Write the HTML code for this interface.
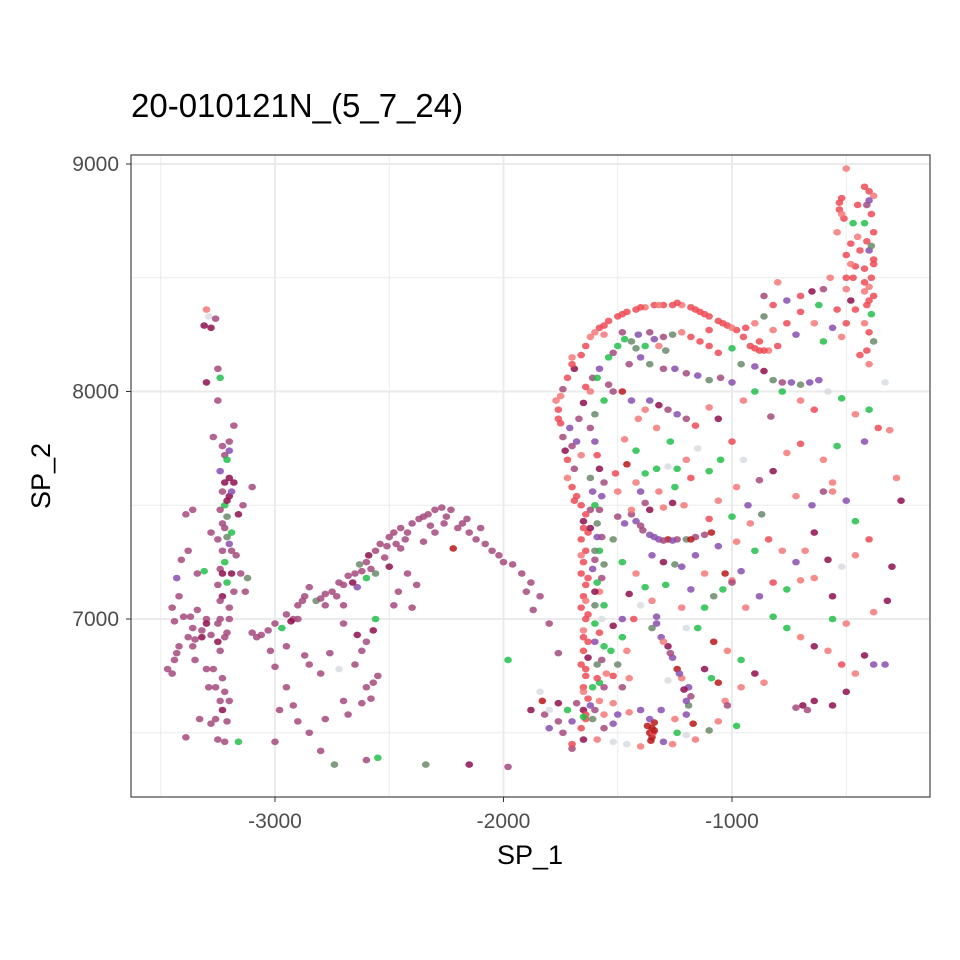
<!DOCTYPE html>
<html><head><meta charset="utf-8"><style>
body{margin:0;background:#fff}
svg{display:block;font-family:"Liberation Sans",Arial,sans-serif}
</style></head><body>
<svg id="chart" width="960" height="960" viewBox="0 0 960 960">
<rect width="960" height="960" fill="#fff"/>
<text x="131" y="117" font-size="33" fill="#000">20-010121N_(5_7_24)</text>
<g id="grid"></g>
<g id="pts"></g>
<rect x="131" y="155" width="799" height="642" fill="none" stroke="#333" stroke-width="1.1"/>
<g id="axes"></g>
<text x="530" y="864" font-size="27" text-anchor="middle">SP_1</text>
<text transform="translate(50,476) rotate(-90)" font-size="27" text-anchor="middle">SP_2</text>
</svg>
<script>
const xTicks=[-3000,-2000,-1000];
const yTicks=[7000,8000,9000];
const xMinor=[-3500,-2500,-1500,-500];
const yMinor=[6500,7500,8500];
const palette=["#a64a7e","#8e0e4e","#ee4a55","#f47878","#22c04a","#8a4fb0","#d8dce2","#b81818","#6a8a6a"];
// [x, y, colorIndex]
const leftStrand=[[-3300,8360,3],[-3290,8330,6],[-3310,8290,1],[-3280,8280,1],[-3260,8320,0],[-3250,8100,0],[-3300,8040,1],[-3240,8060,4],[-3250,7960,0],[-3270,7800,0],[-3180,7850,0],[-3200,7780,0],[-3220,7720,0],[-3210,7700,4],[-3240,7650,5],[-3200,7620,1],[-3180,7600,1],[-3230,7560,0],[-3200,7540,1],[-3220,7500,4],[-3240,7480,0],[-3160,7460,1],[-3210,7450,8],[-3230,7420,0],[-3190,7380,4],[-3250,7350,0],[-3200,7330,5],[-3230,7300,0],[-3170,7280,0],[-3220,7250,4],[-3240,7220,0],[-3190,7200,1],[-3210,7160,4],[-3250,7150,0],[-3180,7120,0],[-3230,7100,1],[-3200,7050,0],[-3250,6980,0],[-3220,6920,0],[-3240,6860,0],[-3270,6780,0],[-3230,6740,0],[-3220,6680,0],[-3240,6640,0],[-3230,6600,1],[-3210,6550,0],[-3250,6470,0],[-3220,6460,0],[-3160,6460,4],[-3100,7580,0],[-3140,7500,0],[-3130,7120,0],[-3150,7200,0],[-3120,7180,8],[-3300,7000,0],[-3280,7380,0],[-3310,7210,4],[-3220,7400,0],[-3210,7360,8],[-3190,7300,0],[-3230,7200,1],[-3240,7000,0],[-3200,7000,0],[-3210,6940,0],[-3250,6900,1],[-3280,6930,0],[-3260,6700,0],[-3200,6640,0],[-3260,6560,0],[-3200,7740,5],[-3230,7760,0],[-3220,7600,1],[-3190,7560,5],[-3210,7520,1],[-3240,7080,0]];
const farLeft=[[-3450,7050,0],[-3470,6780,0],[-3430,6850,0],[-3410,7260,0],[-3380,7300,0],[-3360,6960,0],[-3350,6910,0],[-3400,7010,0],[-3320,6920,1],[-3440,6820,0],[-3390,7460,0],[-3340,7040,0],[-3430,7180,5],[-3300,6780,0],[-3330,6560,0],[-3280,6540,0],[-3390,6480,0],[-3360,7480,0],[-3420,6880,0],[-3370,7010,0],[-3440,6990,0],[-3290,6700,0],[-3350,6820,0],[-3380,6920,0],[-3360,6880,0],[-3320,6950,0],[-3420,7100,0],[-3450,6760,0],[-3340,7200,0],[-3300,6980,1]];
const arc=[[-3100,6940,0],[-3060,6930,0],[-3030,6950,0],[-3000,6980,0],[-2970,6960,4],[-2950,7020,0],[-2920,7000,0],[-2900,7060,0],[-2870,7100,0],[-2850,7140,0],[-2820,7080,8],[-2800,7090,0],[-2780,7060,0],[-2750,7120,0],[-2720,7160,0],[-2700,7150,0],[-2680,7190,0],[-2650,7200,0],[-2630,7240,8],[-2600,7250,0],[-2580,7220,0],[-2560,7300,0],[-2540,7330,0],[-2520,7270,0],[-2500,7360,0],[-2470,7330,0],[-2450,7400,0],[-2420,7380,0],[-2400,7420,0],[-2370,7440,0],[-2350,7450,0],[-2320,7410,0],[-2300,7480,0],[-2270,7490,0],[-2250,7450,0],[-2230,7480,0],[-2200,7400,0],[-2180,7420,0],[-2150,7380,0],[-2120,7350,0],[-2100,7400,0],[-2080,7330,0],[-2050,7300,0],[-2020,7280,0],[-2000,7250,0],[-1960,7240,0],[-1920,7200,0],[-1900,7120,0],[-2600,7180,4],[-2560,7200,8],[-2640,7140,5],[-2700,7060,0],[-2500,7230,1],[-2450,7310,0],[-2350,7340,0],[-2300,7380,0],[-2220,7310,7],[-2420,7200,0],[-2560,7000,4],[-2480,7060,0],[-2400,7050,0],[-2380,7150,0],[-3080,6920,0],[-2930,6990,1],[-2880,7080,0],[-2780,7110,0],[-2730,7100,0],[-2660,7160,1],[-2620,7210,0],[-2590,7280,1],[-2510,7320,0],[-2480,7380,0],[-2430,7350,0],[-2330,7460,0],[-2260,7420,0],[-2160,7440,0]];
const lower=[[-2900,7000,0],[-2700,6980,0],[-2850,6800,0],[-2600,6900,0],[-2550,6750,0],[-2950,6700,0],[-3000,6790,0],[-3020,6860,0],[-2900,6550,0],[-2850,6500,0],[-2800,6420,0],[-2740,6360,8],[-2720,6780,6],[-2600,6380,0],[-2550,6390,4],[-2340,6360,8],[-2150,6360,1],[-1980,6350,0],[-2650,6800,0],[-2620,6860,0],[-2580,6650,0],[-2570,6720,0],[-2700,6640,0],[-2680,6580,0],[-2780,6560,0],[-2920,6620,0],[-3000,6460,0],[-2980,6600,0],[-2800,6760,0],[-2570,6950,1],[-2620,6630,0],[-1980,6820,4],[-1800,6980,0],[-1760,6850,0],[-1840,6680,6],[-1880,6600,1],[-1820,6580,0],[-1800,6520,5],[-1760,6550,0],[-1700,6430,0],[-1870,7040,0],[-1840,7100,0],[-1880,7160,0],[-2760,6850,0],[-2460,7120,0],[-2950,6880,0],[-2870,6840,0],[-2640,6930,1],[-2600,6700,0]];
const faceLeft=[[-1660,6520,2],[-1640,6560,2],[-1650,6600,1],[-1630,6650,2],[-1650,6700,2],[-1640,6750,2],[-1660,6800,2],[-1650,6860,2],[-1630,6900,2],[-1650,6950,3],[-1640,7000,2],[-1660,7050,2],[-1650,7100,2],[-1640,7150,2],[-1660,7200,2],[-1650,7250,2],[-1640,7300,2],[-1660,7350,2],[-1650,7400,2],[-1640,7460,2],[-1660,7500,2],[-1680,7540,2],[-1700,7580,2],[-1720,7620,3],[-1690,7660,0],[-1720,7700,2],[-1700,7760,0],[-1740,7800,0],[-1750,7860,2],[-1760,7920,2],[-1770,7960,3],[-1740,8010,0],[-1720,8060,2],[-1690,8100,1],[-1660,8160,2],[-1640,8200,2],[-1620,8240,3],[-1580,8280,2],[-1540,8310,2],[-1500,8330,2],[-1460,8350,2],[-1420,8360,2],[-1380,8370,3],[-1340,8380,2],[-1300,8380,2],[-1260,8380,2],[-1220,8380,3],[-1180,8370,2],[-1140,8350,2],[-1100,8330,2],[-1060,8310,2],[-1020,8290,2],[-980,8270,2],[-950,8240,2],[-920,8200,2],[-880,8180,2],[-840,8180,3],[-800,8200,2],[-1640,6580,2],[-1650,6680,3],[-1640,6780,2],[-1630,6830,1],[-1650,6920,2],[-1630,7020,2],[-1640,7080,3],[-1630,7180,2],[-1660,7280,3],[-1630,7380,2],[-1650,7430,1],[-1620,7480,0],[-1690,7520,2],[-1730,7740,1],[-1710,7840,5],[-1760,7880,2],[-1750,7980,3],[-1700,8120,2],[-1600,8260,3],[-1560,8290,2],[-1480,8340,2],[-1400,8370,2],[-1320,8380,3],[-1240,8390,2],[-1160,8360,2],[-1120,8340,2],[-1040,8300,2],[-1000,8280,3],[-900,8190,2],[-860,8180,2]];
const faceInner=[[-1560,7960,4],[-1520,8000,0],[-1600,7900,8],[-1620,7840,0],[-1600,7780,5],[-1590,7720,2],[-1580,7660,1],[-1560,7600,0],[-1570,7540,5],[-1580,7480,0],[-1590,7420,8],[-1570,7360,0],[-1580,7300,4],[-1560,7240,8],[-1570,7180,0],[-1580,7120,3],[-1560,7060,4],[-1570,7000,6],[-1580,6940,2],[-1560,6880,4],[-1570,6820,0],[-1550,6760,3],[-1560,6700,0],[-1580,6640,3],[-1600,6600,0],[-1560,6580,3],[-1500,6580,5],[-1450,6590,3],[-1400,6600,5],[-1520,6630,3],[-1480,6700,0],[-1450,6740,3],[-1500,6800,8],[-1460,6860,3],[-1480,6920,4],[-1430,7000,2],[-1500,7450,0],[-1470,7420,5],[-1520,7350,8],[-1600,7300,8],[-1610,7220,5],[-1500,7560,3],[-1450,8120,0],[-1420,8190,8],[-1380,8200,4],[-1340,8230,5],[-1300,8240,0],[-1260,8250,8],[-1220,8260,3],[-1180,8240,2],[-1140,8220,2],[-1100,8200,2],[-1060,8170,2],[-1400,8150,5],[-1360,8120,8],[-1300,8100,0],[-1250,8100,5],[-1200,8080,0],[-1150,8070,5],[-1100,8050,8],[-1050,8060,0],[-1000,8040,5],[-1500,8200,4],[-1540,8150,4],[-1480,8260,0],[-1560,8250,3],[-1520,8170,0],[-1620,8000,3],[-1650,7950,1],[-1700,8150,3],[-1100,8270,2],[-1000,8190,4],[-960,8120,8],[-900,8110,5],[-860,8090,1],[-820,8050,8],[-780,8040,0],[-740,8040,5],[-700,8030,8],[-660,8040,5],[-620,8050,5],[-1470,8230,4],[-1440,8220,8],[-1410,8250,5],[-1360,8260,0],[-1320,8200,3],[-1290,8180,8],[-1580,8100,5],[-1610,8060,0],[-1640,8020,2],[-1670,7880,0],[-1680,7780,5],[-1660,7720,3],[-1620,7620,8],[-1610,7560,5],[-1600,7500,4],[-1590,7360,5],[-1600,7260,0],[-1590,7160,4],[-1600,7060,8],[-1600,6900,5],[-1590,6800,8],[-1580,6720,4],[-1620,6620,5],[-1560,6520,0],[-1520,6540,5],[-1610,6560,8]];
const faceFeatures=[[-1420,7430,5],[-1390,7390,0],[-1360,7370,5],[-1320,7350,5],[-1280,7350,7],[-1240,7350,0],[-1200,7350,8],[-1160,7360,0],[-1120,7370,0],[-1090,7380,7],[-1350,7280,5],[-1300,7250,1],[-1250,7240,8],[-1220,7230,5],[-1380,7640,4],[-1330,7660,4],[-1280,7670,6],[-1240,7660,4],[-1200,7700,3],[-1300,7490,3],[-1260,7510,1],[-1210,7500,3],[-1420,7600,3],[-1400,7560,5],[-1380,7510,0],[-1360,7480,1],[-1440,7460,0],[-1410,7880,3],[-1380,7920,3],[-1360,7960,5],[-1320,7940,1],[-1280,7920,0],[-1240,7900,5],[-1200,7880,0],[-1440,7960,5],[-1480,8000,7],[-1330,7840,3],[-1060,7320,5],[-1030,7200,7],[-1000,7170,3],[-960,7210,5],[-1350,6960,8],[-1310,6920,5],[-1280,6880,1],[-1260,6830,5],[-1240,6780,7],[-1220,6740,3],[-1190,6700,5],[-1180,6660,0],[-1190,6620,8],[-1200,6580,5],[-1250,6560,3],[-1300,6900,3],[-1330,7010,5],[-1350,7080,3],[-1120,7050,4],[-1080,7100,8],[-1040,7130,4],[-1000,7160,0],[-1090,6740,4],[-1120,6780,1],[-1060,6720,7],[-1030,6640,3],[-1340,7360,5],[-1300,7345,0],[-1260,7345,5],[-1180,7350,7],[-1400,7410,0],[-1440,7480,3],[-1330,6980,5],[-1270,6850,0],[-1230,6760,5],[-1210,6690,1],[-1200,6640,5]];
const redBlob=[[-1360,6500,7],[-1350,6520,7],[-1340,6545,7],[-1360,6560,5],[-1350,6480,7],[-1345,6500,2],[-1370,6530,7],[-1355,6465,7],[-1340,6510,7]];
const rightStrand=[[-420,8900,2],[-400,8880,2],[-380,8860,3],[-410,8820,0],[-390,8780,2],[-420,8740,4],[-380,8700,2],[-410,8660,2],[-400,8620,5],[-380,8580,2],[-420,8540,2],[-390,8500,2],[-400,8460,3],[-380,8420,2],[-410,8380,2],[-390,8340,4],[-420,8300,3],[-400,8260,2],[-380,8220,8],[-410,8180,2],[-400,8120,3],[-500,8980,3],[-520,8850,2],[-530,8800,2],[-510,8760,2],[-540,8700,3],[-480,8650,2],[-500,8600,2],[-460,8550,2],[-470,8500,2],[-500,8450,3],[-480,8400,1],[-460,8360,2],[-500,8300,2],[-470,8740,4],[-450,8820,2],[-450,8680,3],[-570,8500,3],[-600,8450,0],[-650,8440,1],[-700,8420,2],[-760,8400,5],[-820,8380,2],[-860,8330,8],[-900,8300,3],[-940,8280,2],[-700,8350,2],[-620,8380,4],[-540,8360,2],[-560,8280,5],[-640,8300,3],[-760,8300,2],[-820,8270,3],[-880,8220,2],[-720,8250,5],[-600,8220,4],[-520,8240,3],[-440,8160,2],[-800,8480,3],[-860,8420,0],[-530,8830,2],[-520,8780,3],[-400,8840,5],[-390,8640,8],[-380,8560,2],[-420,8480,2],[-500,8500,2],[-480,8560,3],[-440,8620,2],[-400,8400,2],[-420,8440,3]];
const interior=[[-1160,7850,2],[-1100,7930,3],[-1060,7880,1],[-950,7960,3],[-900,8000,4],[-830,7890,0],[-780,8000,4],[-700,7960,3],[-640,7920,2],[-580,8000,6],[-520,7970,4],[-460,7900,3],[-400,7920,4],[-360,7840,2],[-420,7780,5],[-540,7760,4],[-600,7700,3],[-700,7770,2],[-760,7730,3],[-820,7650,1],[-880,7610,0],[-950,7700,6],[-1000,7780,2],[-1050,7700,4],[-1100,7650,4],[-1150,7750,6],[-980,7580,3],[-930,7500,5],[-870,7460,8],[-920,7420,3],[-1000,7450,4],[-1060,7520,3],[-1100,7440,2],[-720,7540,3],[-650,7500,5],[-560,7560,3],[-500,7520,5],[-460,7430,4],[-400,7350,2],[-460,7280,3],[-520,7230,6],[-580,7260,1],[-640,7180,3],[-700,7170,3],[-760,7130,4],[-820,7160,2],[-880,7100,5],[-940,7050,3],[-820,7010,4],[-760,6960,4],[-700,6920,3],[-640,6880,1],[-580,6860,3],[-520,6800,2],[-460,6760,3],[-420,6840,1],[-380,6800,5],[-500,6980,3],[-560,7100,1],[-380,7030,3],[-320,7080,1],[-300,7230,1],[-260,7520,1],[-280,7620,3],[-310,7830,3],[-330,8040,6],[-560,7600,3],[-600,7560,0],[-640,7380,1],[-680,7300,3],[-720,7250,5],[-780,7300,3],[-840,7350,2],[-900,7300,4],[-980,7340,3],[-1180,7130,5],[-1220,7050,3],[-1150,6960,4],[-1080,6900,7],[-1020,6860,3],[-960,6820,4],[-900,6760,1],[-860,6720,3],[-960,6700,3],[-1020,6620,0],[-1060,6550,3],[-980,6530,4],[-1100,6510,8],[-1160,6470,3],[-1200,6490,6],[-1260,6450,3],[-1300,6460,5],[-1400,6440,3],[-1460,6450,6],[-1520,6460,6],[-1590,6470,3],[-640,6640,1],[-690,6620,1],[-670,6600,0],[-720,6610,0],[-560,6620,1],[-500,6680,1],[-330,6800,5],[-560,7000,4],[-1270,7780,4],[-1180,7620,2],[-1250,7580,4],[-1320,7560,3],[-1480,7250,4],[-1420,7200,3],[-1380,7140,4],[-1450,7110,1],[-1400,7060,6],[-1480,7000,5],[-1520,6970,1],[-1200,6960,6],[-1120,7200,3],[-1160,7280,5],[-1290,7150,4],[-1700,6550,5],[-1720,6600,4],[-1760,6630,1],[-1680,6630,0],[-1740,6500,0],[-1800,6600,6],[-1590,8060,4],[-1540,8030,0],[-1470,7790,3],[-1420,7740,4],[-1460,7680,7],[-1510,7640,2],[-1620,7400,1],[-1600,7120,1],[-1600,6980,4],[-1530,6860,4],[-1590,6740,2],[-1520,6750,2],[-1610,6700,4],[-1700,6450,2],[-1650,6470,1],[-1830,6640,7],[-1650,6570,4],[-1280,6730,6],[-1310,6600,5],[-1240,6500,4],[-1170,6540,7]];
const groups=[leftStrand,farLeft,arc,lower,faceLeft,faceInner,faceFeatures,redBlob,rightStrand,interior];

const X0=131,X1=930,Y0=155,Y1=797;
function sx(v){return 275+(v+3000)*0.2285;}
function sy(v){return 619-(v-7000)*0.2275;}
const NS="http://www.w3.org/2000/svg";
const grid=document.getElementById('grid');
function line(x1,y1,x2,y2,w,name){const l=document.createElementNS(NS,'line');l.setAttribute('x1',x1);l.setAttribute('y1',y1);l.setAttribute('x2',x2);l.setAttribute('y2',y2);l.setAttribute('stroke','#ebebeb');l.setAttribute('stroke-width',w);


grid.appendChild(l);}
xMinor.forEach(v=>line(sx(v),Y0,sx(v),Y1,1,'x-minor-gridline'));
yMinor.forEach(v=>line(X0,sy(v),X1,sy(v),1,'y-minor-gridline'));
xTicks.forEach(v=>line(sx(v),Y0,sx(v),Y1,2,'x-major-gridline'));
yTicks.forEach(v=>line(X0,sy(v),X1,sy(v),2,'y-major-gridline'));
const axes=document.getElementById('axes');
xTicks.forEach(v=>{const l=document.createElementNS(NS,'line');l.setAttribute('x1',sx(v));l.setAttribute('x2',sx(v));l.setAttribute('y1',Y1);l.setAttribute('y2',Y1+5);l.setAttribute('stroke','#333');


axes.appendChild(l);
const t=document.createElementNS(NS,'text');t.setAttribute('x',sx(v));t.setAttribute('y',Y1+31);t.setAttribute('text-anchor','middle');t.setAttribute('font-size','21');t.setAttribute('fill','#4d4d4d');t.textContent=v;


axes.appendChild(t);});
yTicks.forEach(v=>{const l=document.createElementNS(NS,'line');l.setAttribute('x1',X0-5);l.setAttribute('x2',X0);l.setAttribute('y1',sy(v));l.setAttribute('y2',sy(v));l.setAttribute('stroke','#333');


axes.appendChild(l);
const t=document.createElementNS(NS,'text');t.setAttribute('x',X0-12);t.setAttribute('y',sy(v)+7);t.setAttribute('text-anchor','end');t.setAttribute('font-size','21');t.setAttribute('fill','#4d4d4d');t.textContent=v;


axes.appendChild(t);});
const pg=document.getElementById('pts');
groups.forEach(g=>g.forEach(p=>{const e=document.createElementNS(NS,'ellipse');e.setAttribute('cx',sx(p[0]));e.setAttribute('cy',sy(p[1]));e.setAttribute('rx',3.8);e.setAttribute('ry',3.3);e.setAttribute('fill',palette[p[2]]);e.setAttribute('fill-opacity',0.85);


pg.appendChild(e);}));
</script>
</body></html>
